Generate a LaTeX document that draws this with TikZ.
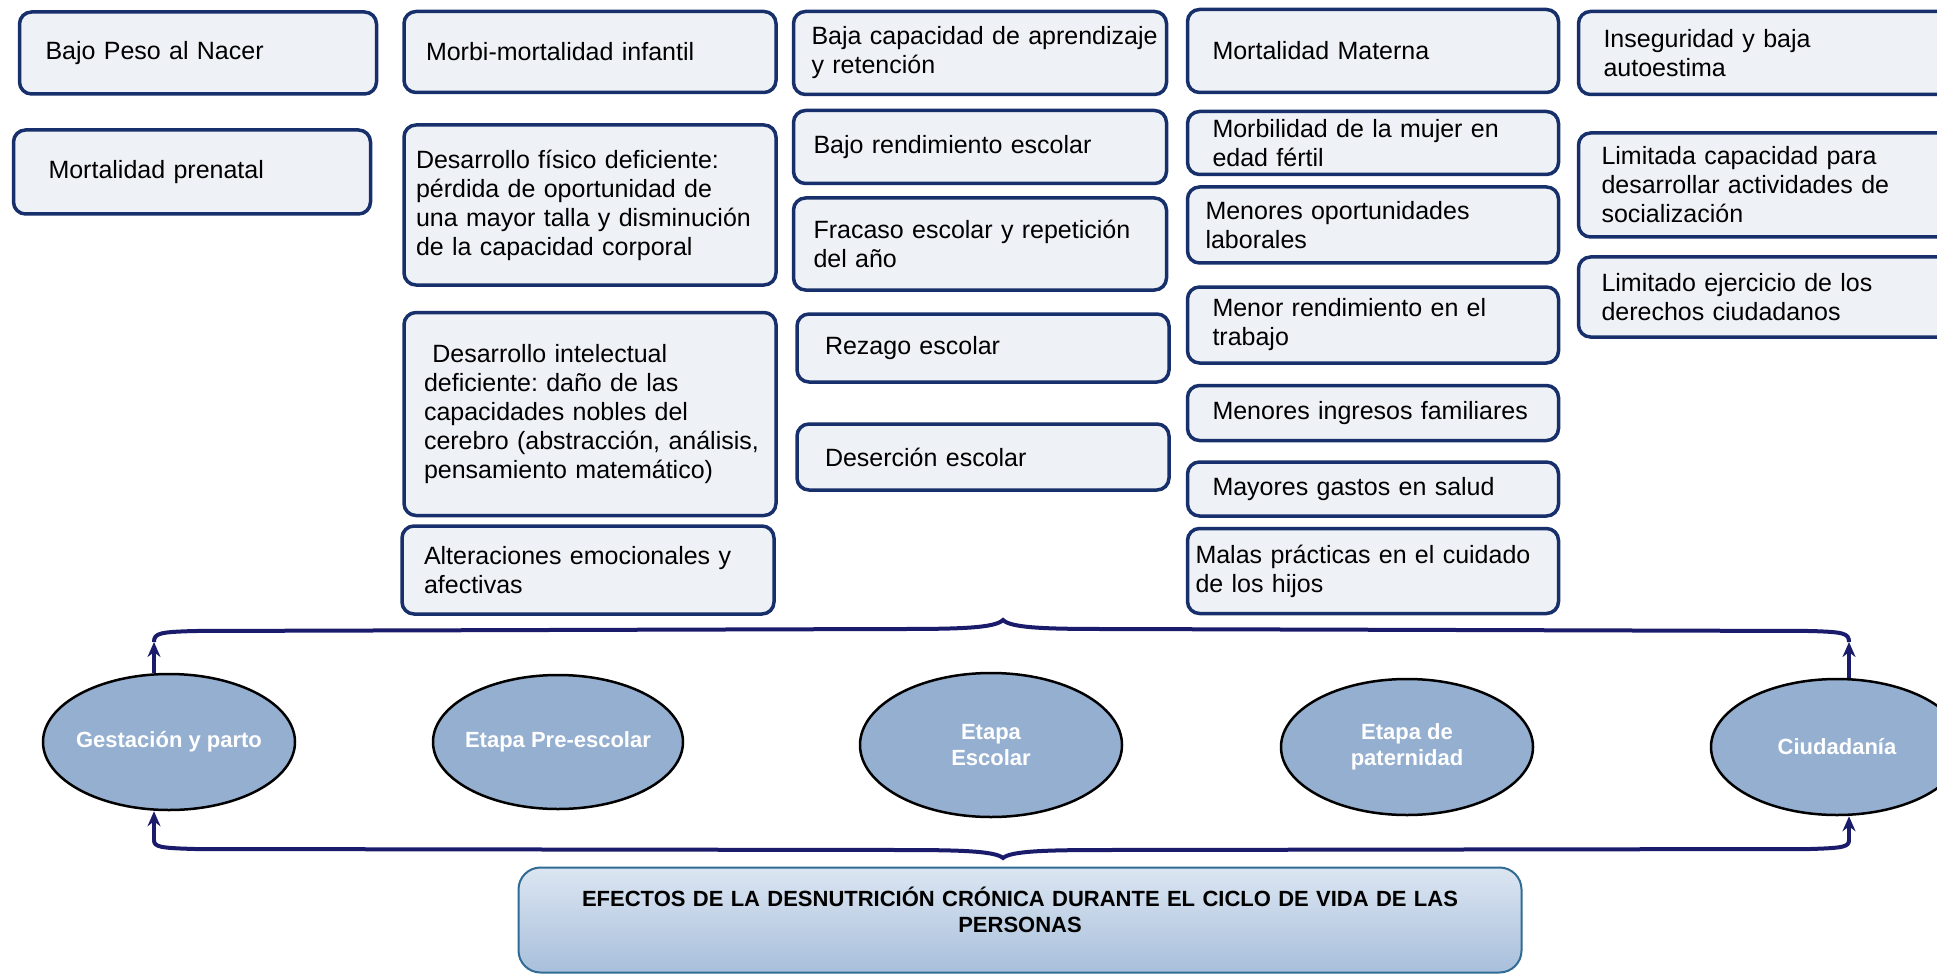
\documentclass[tikz,border=0pt]{standalone}
\usepackage{fontspec}
\setmainfont{Liberation Sans}
\usepackage{tikz}
\usetikzlibrary{shapes.geometric}
\usetikzlibrary{arrows.meta}
\hyphenpenalty=10000
\definecolor{boxline}{HTML}{17306B}
\definecolor{boxfill}{HTML}{EEF1F6}
\definecolor{stagefill}{HTML}{95AFD0}
\definecolor{braceline}{HTML}{1B1B6B}
\definecolor{titleline}{HTML}{2F6B95}
\definecolor{titletop}{HTML}{DCE6F2}
\definecolor{titlebottom}{HTML}{A8BFDB}
\tikzset{
	effectstyle/.style={rectangle,rounded corners=12pt,draw=boxline,line width=3.5pt,fill=boxfill,align=left,inner xsep=20pt,inner ysep=2pt,text width=332pt,font=\fontsize{25}{29}\selectfont},
	stagestyle/.style={ellipse,draw=black,line width=2.5pt,fill=stagefill,text=white,align=center,inner sep=-12pt,font=\fontsize{22}{26}\selectfont\bfseries},
	titlestyle/.style={rectangle,rounded corners=22pt,draw=titleline,line width=2pt,top color=titletop,bottom color=titlebottom,align=center,text width=960pt,font=\fontsize{22}{26}\selectfont\bfseries},
	bracestyle/.style={draw=braceline,line width=4pt}
}
\begin{document}
\begin{tikzpicture}[x=1pt,y=-1pt]
	\useasboundingbox (0,0) rectangle (1937,976);
	\node[effectstyle,inner xsep=26pt,text width=305pt,minimum height=82pt] (peso) at (198,53) {Bajo Peso al Nacer};
	\node[effectstyle,inner xsep=35pt,text width=287pt,minimum height=84pt] (prenatal) at (192,172) {Mortalidad prenatal};
	\node[effectstyle,inner xsep=22pt,text width=328pt,minimum height=81pt] (morbi) at (590,52) {Morbi-mortalidad infantil};
	\node[effectstyle,inner xsep=12pt,text width=348pt,minimum height=160pt] (fisico) at (590,205) {Desarrollo~físico~deficiente:\\pérdida~de~oportunidad~de\\una~mayor~talla~y~disminución\\de~la~capacidad~corporal};
	\node[effectstyle,inner xsep=20pt,text width=332pt,minimum height=203pt] (intelecto) at (590,414) {\ Desarrollo~intelectual\\deficiente:~daño~de~las\\capacidades~nobles~del\\cerebro~(abstracción,~análisis,\\pensamiento~matemático)};
	\node[effectstyle,inner xsep=22pt,text width=328pt,minimum height=88pt] (emocion) at (588,570) {Alteraciones~emocionales~y\\afectivas};
	\node[effectstyle,inner xsep=18pt,text width=337pt,minimum height=83pt] (aprende) at (980,53) {Baja~capacidad~de~aprendizaje\\y~retención};
	\node[effectstyle,inner xsep=20pt,text width=333pt,minimum height=73pt] (rinde) at (980,147) {Bajo rendimiento escolar};
	\node[effectstyle,inner xsep=20pt,text width=333pt,minimum height=92pt] (fracaso) at (980,244) {Fracaso~escolar~y~repetición\\del~año};
	\node[effectstyle,inner xsep=28pt,text width=316pt,minimum height=68pt] (rezago) at (983,348) {Rezago escolar};
	\node[effectstyle,inner xsep=28pt,text width=316pt,minimum height=66pt] (desercion) at (983,457) {Deserción escolar};
	\node[effectstyle,inner xsep=25pt,text width=321pt,minimum height=83pt] (materna) at (1373,51) {Mortalidad Materna};
	\node[effectstyle,inner xsep=25pt,text width=321pt,minimum height=63pt] (mujer) at (1373,143) {Morbilidad~de~la~mujer~en\\edad~fértil};
	\node[effectstyle,inner xsep=18pt,text width=335pt,minimum height=76pt] (laboral) at (1373,225) {Menores~oportunidades\\laborales};
	\node[effectstyle,inner xsep=25pt,text width=321pt,minimum height=76pt] (trabajo) at (1373,325) {Menor~rendimiento~en~el\\trabajo};
	\node[effectstyle,inner xsep=25pt,text width=321pt,minimum height=55pt] (ingresos) at (1373,413) {Menores ingresos familiares};
	\node[effectstyle,inner xsep=25pt,text width=321pt,minimum height=54pt] (gastos) at (1373,489) {Mayores gastos en salud};
	\node[effectstyle,inner xsep=8pt,text width=355pt,minimum height=85pt] (hijos) at (1373,571) {Malas~prácticas~en~el~cuidado\\de~los~hijos};
	\node[effectstyle,inner xsep=25pt,text width=321pt,minimum height=83pt] (autoestima) at (1764,53) {Inseguridad~y~baja\\autoestima};
	\node[effectstyle,inner xsep=23pt,text width=325pt,minimum height=104pt] (social) at (1764,185) {Limitada~capacidad~para\\desarrollar~actividades~de\\socialización};
	\node[effectstyle,inner xsep=23pt,text width=325pt,minimum height=80pt] (derechos) at (1764,297) {Limitado~ejercicio~de~los\\derechos~ciudadanos};
	\node[stagestyle,minimum width=252pt,minimum height=136pt] (gesta) at (169,742) {Gestación y parto};
	\node[stagestyle,minimum width=250pt,minimum height=134pt] (preesc) at (558,742) {Etapa Pre-escolar};
	\node[stagestyle,minimum width=262pt,minimum height=144pt] (escolar) at (991,745) {Etapa\\Escolar};
	\node[stagestyle,minimum width=252pt,minimum height=136pt] (paterno) at (1407,747) {Etapa de\\paternidad};
	\node[stagestyle,minimum width=252pt,minimum height=136pt] (ciudad) at (1837,747) {Ciudadanía};
	\node[titlestyle,minimum width=1003pt,minimum height=105pt] (titulo) at (1020,920) {EFECTOS DE LA DESNUTRICIÓN CRÓNICA DURANTE EL CICLO DE VIDA DE LAS\\PERSONAS\\[-6pt]\mbox{}};
	\coordinate (tl) at (154,642);
	\coordinate (tm) at (1003,620);
	\coordinate (tr) at (1849,642);
	\coordinate (bl) at (154,840);
	\coordinate (bm) at (1003,858);
	\coordinate (br) at (1849,840);
	\draw[bracestyle] (tl) .. controls (154,633) and (160,632) .. (195,631) -- (900,629) .. controls (960,629) and (995,628) .. (tm) .. controls (1011,628) and (1046,629) .. (1106,629) -- (1810,631) .. controls (1843,632) and (1849,633) .. (tr);
	\draw[bracestyle] (bl) .. controls (154,847) and (160,848) .. (195,849) -- (900,850) .. controls (960,850) and (995,851) .. (bm) .. controls (1011,851) and (1046,850) .. (1106,850) -- (1810,849) .. controls (1843,848) and (1849,847) .. (br);
	\draw[bracestyle,-{Stealth[length=15pt,width=13pt]}] (gesta.north -| tl) -- (tl);
	\draw[bracestyle,-{Stealth[length=15pt,width=13pt]}] (ciudad.north -| tr) -- (tr);
	\draw[bracestyle,-{Stealth[length=15pt,width=13pt]}] (bl) -- (gesta.south -| bl);
	\draw[bracestyle,-{Stealth[length=15pt,width=13pt]}] (br) -- (ciudad.south -| br);
\end{tikzpicture}
\end{document}
